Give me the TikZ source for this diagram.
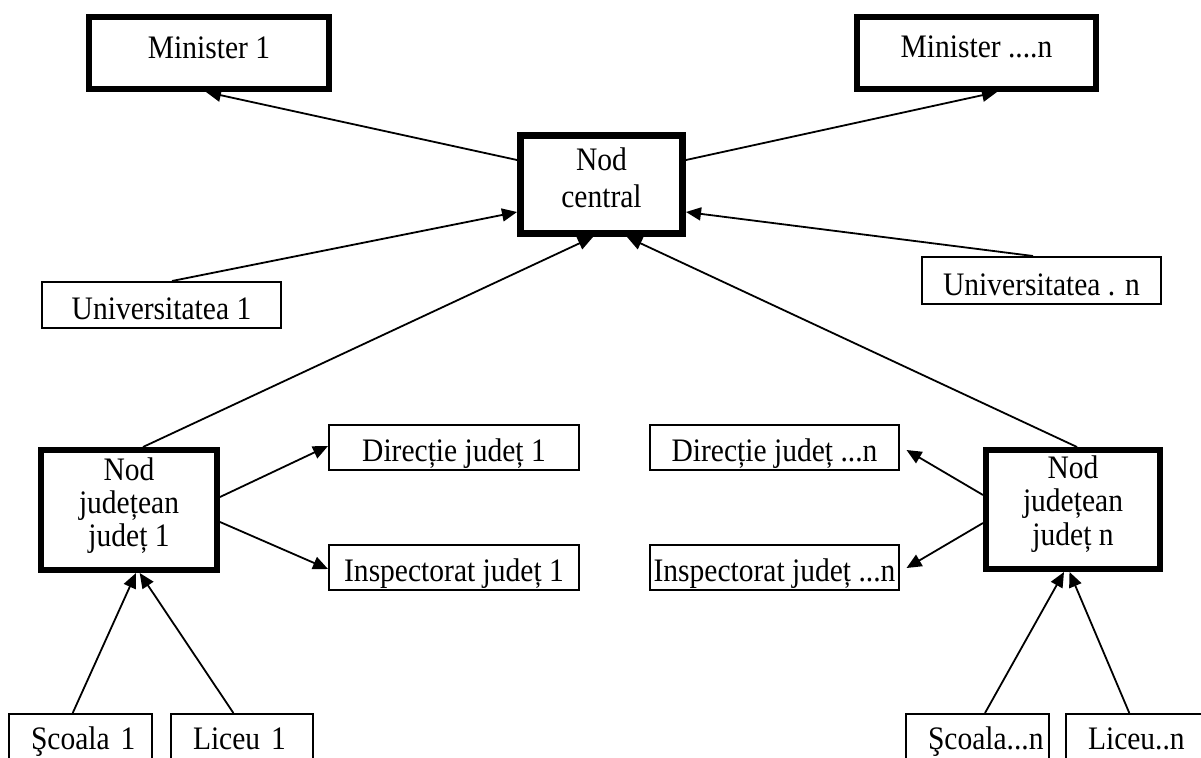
\documentclass[tikz,border=0pt]{standalone}
\usepackage{fontspec}
\setmainfont{Liberation Serif}[FakeStretch=0.9]
\usetikzlibrary{arrows.meta,calc}
\newcommand\tstrut[2]{\rule[-#1pt]{0pt}{\dimexpr#1pt+#2pt\relax}}
\tikzset{
  tbox/.style={draw, line width=2pt, inner sep=0pt, font=\fontsize{32.8}{37.7}\selectfont},
  kbox/.style={draw, line width=6pt, inner sep=0pt, font=\fontsize{32.8}{37.7}\selectfont},
  lbox/.style={tbox, align=left, inner xsep=22pt, text width=99pt, minimum height=45pt},
  arr/.style={line width=1.8pt, -{Triangle[length=15pt,width=13pt]}}
}
\begin{document}
\begin{tikzpicture}[x=1pt,y=-1pt]
\useasboundingbox (0,0) rectangle (1201,757);
\clip (0,0) rectangle (1201,757);
% thick boxes
\node[kbox, minimum width=240pt, minimum height=72pt] (m1) at (209,53) {\tstrut{14.4}{25}Minister 1};
\node[kbox, minimum width=239pt, minimum height=72pt] (mn) at (976.5,53) {\tstrut{16}{25}Minister ....n};
\node[kbox, line width=7pt, minimum width=162pt, minimum height=98pt, align=center] (nc) at (601.5,184.5) {\tstrut{0}{25}Nod\\central\tstrut{16.3}{0}};
\node[kbox, minimum width=176pt, minimum height=120pt, align=center, font=\fontsize{32.8}{33.4}\selectfont] (nj1) at (129,510) {\tstrut{0}{25}Nod\\județean\\județ 1\tstrut{18.2}{0}};
\node[kbox, minimum width=174pt, minimum height=119pt, align=center, font=\fontsize{32.8}{33.4}\selectfont] (njn) at (1073,509.5) {\tstrut{0}{25}Nod\\județean\\județ n\tstrut{20.6}{0}};
% thin boxes
\node[tbox, minimum width=239pt, minimum height=46pt] (u1) at (161.5,305) {\tstrut{8}{36}Universitatea 1};
\node[tbox, minimum width=239pt, minimum height=47pt] (un) at (1041.5,280.5) {\tstrut{8}{37}Universitatea . n};
\node[tbox, minimum width=250pt, minimum height=45pt] (d1) at (454,447.5) {\tstrut{8}{35}Direcție județ 1};
\node[tbox, minimum width=250pt, minimum height=45pt] (i1) at (454,567.5) {\tstrut{8}{35}Inspectorat județ 1};
\node[tbox, minimum width=249pt, minimum height=45pt] (dn) at (774.5,447.5) {\tstrut{8}{35}Direcție județ ...n};
\node[tbox, minimum width=249pt, minimum height=45pt] (inn) at (774.5,567.5) {\tstrut{8}{35}Inspectorat județ ...n};
\node[lbox] (s1) at (80.5,736.5) {\mbox{\tstrut{8}{33.6}Şcoala 1}};
\node[lbox, text width=98pt] (l1) at (242,736.5) {\mbox{\tstrut{8}{33.6}Liceu 1}};
\node[lbox] (sn) at (977.5,736.5) {\mbox{\tstrut{8}{33.6}Şcoala...n}};
\node[lbox] (lcn) at (1137.5,736.5) {\mbox{\tstrut{8}{33.6}Liceu..n}};
% connectors
\draw[arr] ($(nc.north west)+(0,28)$) -- ($(m1.south west)+(120,0)$);
\draw[arr] ($(nc.north east)+(0,28)$) -- ($(mn.south west)+(143,0)$);
\draw[arr] ($(u1.north west)+(131,0)$) -- ($(nc.south west)+(0,-25)$);
\draw[arr] ($(un.north west)+(112,0)$) -- ($(nc.south east)+(0,-25)$);
\draw[arr] ($(nj1.north west)+(105,0)$) -- ($(nc.south west)+(76,0)$);
\draw[arr] ($(njn.north west)+(94,0)$) -- ($(nc.south west)+(110,0)$);
\draw[arr] ($(nj1.north east)+(0,50)$) -- ($(d1.west)+(0,-1.5)$);
\draw[arr] ($(nj1.north east)+(0,75)$) -- ($(i1.west)+(0,1.5)$);
\draw[arr] ($(njn.north west)+(0,48)$) -- ($(dn.east)+(6.5,2.5)$);
\draw[arr] ($(njn.north west)+(0,76)$) -- ($(inn.east)+(6.5,0.5)$);
\draw[arr] ($(s1.north west)+(64.7,0)$) -- ($(nj1.south west)+(98,0)$);
\draw[arr] ($(l1.north west)+(63.4,0)$) -- ($(nj1.south west)+(101.7,0)$);
\draw[arr] ($(sn.north west)+(80,0)$) -- ($(njn.south west)+(81,0)$);
\draw[arr] ($(lcn.north west)+(64.3,0)$) -- ($(njn.south west)+(86.5,0)$);
\end{tikzpicture}
\end{document}
